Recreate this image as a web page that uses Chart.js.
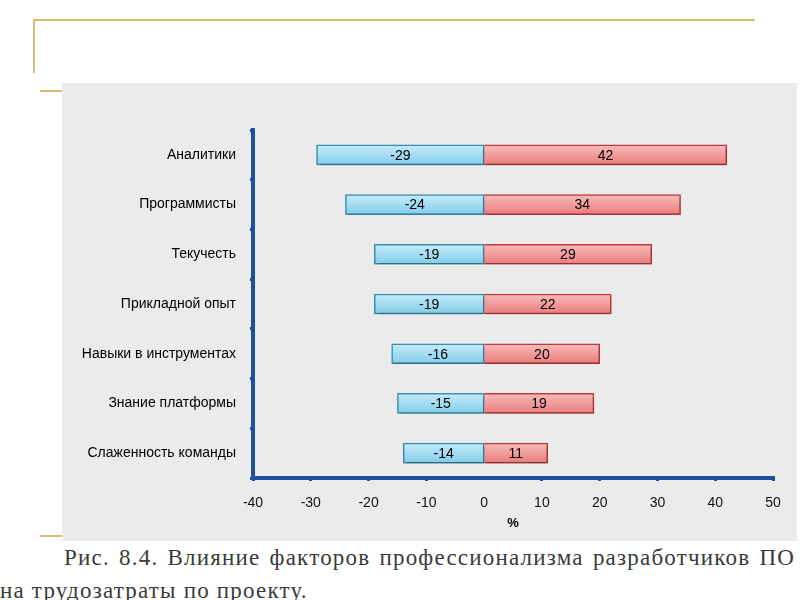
<!DOCTYPE html>
<html><head><meta charset="UTF-8">
<title>Влияние факторов профессионализма</title>
<script src="https://cdn.jsdelivr.net/npm/chart.js"></script>
<style>
body{margin:0;width:800px;height:600px;overflow:hidden;background:#fff;position:relative;font-family:"Liberation Sans",Arial,sans-serif}
.gold{position:absolute;background:#d6bd70}
#panel{position:absolute;left:62px;top:83px;width:735px;height:458px;background:#ebebeb}
#panel canvas{position:absolute;left:0;top:0}
.cap{position:absolute;font-family:"Liberation Serif","Times New Roman",serif;font-size:23px;line-height:33px;color:#3a3a3a;letter-spacing:1.2px;white-space:nowrap}
#cap1{left:64px;top:541px;width:731px;text-align:justify;text-align-last:justify}
#cap2{left:0;top:574px}
</style>
</head><body>
<div class="gold" style="left:33px;top:19px;width:722px;height:2px"></div>
<div class="gold" style="left:33px;top:19px;width:2px;height:54px"></div>
<div class="gold" style="left:40px;top:90px;width:22px;height:2px"></div>
<div class="gold" style="left:40px;top:535px;width:22px;height:2px"></div>
<div id="panel"><canvas id="c" width="735" height="458"></canvas></div>
<div class="cap" id="cap1">Рис. 8.4. Влияние факторов профессионализма разработчиков ПО</div>
<div class="cap" id="cap2">на трудозатраты по проекту.</div>
<script>
const categories = ['Аналитики', 'Программисты', 'Текучесть', 'Прикладной опыт', 'Навыки в инструментах', 'Знание платформы', 'Слаженность команды'];
const negValues = [-29, -24, -19, -19, -16, -15, -14];
const posValues = [42, 34, 29, 22, 20, 19, 11];
const xTicks = [-40, -30, -20, -10, 0, 10, 20, 30, 40, 50];

const AXIS = '#1c4f9e';
const FONT = '"Liberation Sans", Arial, sans-serif';

// vertical gradient per bar, positioned from the category scale
function grad(top, bottom) {
  return (context) => {
    const chart = context.chart;
    const ys = chart.scales && chart.scales.y;
    if (!ys || context.dataIndex === undefined || !chart.chartArea) return bottom;
    const cy = ys.getPixelForValue(context.dataIndex);
    const g = chart.ctx.createLinearGradient(0, cy - 10, 0, cy + 10);
    g.addColorStop(0, top);
    g.addColorStop(1, bottom);
    return g;
  };
}

// soft drop shadow under the bars
const barShadow = {
  id: 'barShadow',
  beforeDatasetsDraw(chart) {
    const ctx = chart.ctx;
    ctx.save();
    ctx.shadowColor = 'rgba(0,0,0,0.3)';
    ctx.shadowBlur = 3;
    ctx.shadowOffsetX = 1;
    ctx.shadowOffsetY = 2;
  },
  afterDatasetsDraw(chart) {
    chart.ctx.restore();
  }
};

const barLabels = {
  id: 'barLabels',
  afterDatasetsDraw(chart) {
    const ctx = chart.ctx;
    ctx.save();
    ctx.font = '14px ' + FONT;
    ctx.fillStyle = '#000';
    ctx.textAlign = 'center';
    ctx.textBaseline = 'middle';
    chart.data.datasets.forEach((ds, i) => {
      chart.getDatasetMeta(i).data.forEach((bar, j) => {
        const p = bar.getCenterPoint();
        ctx.fillText(String(ds.data[j]), p.x, p.y + 1);
      });
    });
    ctx.restore();
  }
};

new Chart(document.getElementById('c'), {
  type: 'bar',
  data: {
    labels: categories,
    datasets: [
      { data: negValues, backgroundColor: grad('#c6ecf9', '#82cce8'), borderColor: '#3a91b3', borderWidth: 1.5, borderSkipped: false, barThickness: 20, stack: 's' },
      { data: posValues, backgroundColor: grad('#f8bcbc', '#eb7b7b'), borderColor: '#c03a3c', borderWidth: 1.5, borderSkipped: 'start', barThickness: 20, stack: 's' }
    ]
  },
  options: {
    indexAxis: 'y',
    responsive: false,
    animation: false,
    layout: { padding: { left: 0, right: 24, top: 47, bottom: 0 } },
    plugins: { legend: { display: false }, tooltip: { enabled: false } },
    scales: {
      x: {
        stacked: true,
        min: -40, max: 50,
        afterBuildTicks: (s) => { s.ticks = xTicks.map(v => ({ value: v })); },
        afterFit: (s) => { s.height = 63; },
        // zero-width grid at 0 so the bars meet without a half-line gap
        grid: { drawOnChartArea: false, tickLength: 3, color: AXIS, lineWidth: (c) => (c.tick && c.tick.value === 0 ? 0 : 3) },
        border: { color: AXIS, width: 4 },
        ticks: { color: '#111', padding: 14, font: { size: 14, family: FONT } },
        title: { display: true, text: '%', color: '#000', padding: { top: 2, bottom: 10 }, font: { size: 13, weight: 'bold', family: FONT } }
      },
      y: {
        stacked: true,
        afterFit: (s) => { s.width = 191; },
        grid: { drawOnChartArea: false, tickLength: 3, color: AXIS, lineWidth: 3 },
        border: { color: AXIS, width: 4 },
        ticks: { color: '#000', padding: 14, font: { size: 14, family: FONT } }
      }
    }
  },
  plugins: [barShadow, barLabels]
});
</script>
</body></html>
